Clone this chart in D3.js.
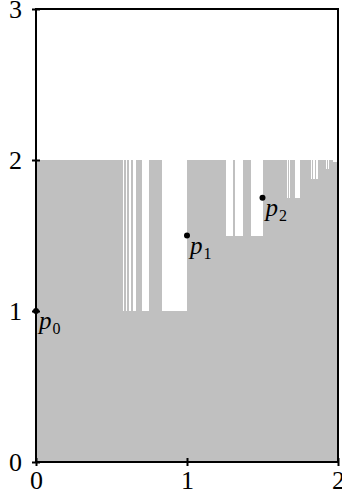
<!DOCTYPE html>
<html>
<head>
<meta charset="utf-8">
<script src="https://cdn.jsdelivr.net/npm/d3@7"></script>
<style>
  html, body { margin: 0; padding: 0; background: #fff; }
  svg { display: block; }
  text { font-family: "Liberation Serif", "DejaVu Serif", serif; }
</style>
</head>
<body>
<div id="chart"></div>
<script>
// white notches cut into the gray region: [start, end] on x, and the level they drop to
const gapStart = [0.574, 0.596, 0.618, 0.640, 0.702, 0.834,
                  1.258, 1.320, 1.424,
                  1.660, 1.673, 1.715,
                  1.821, 1.836, 1.854,
                  1.918, 1.936,
                  1.969];
const gapEnd   = [0.583, 0.605, 0.627, 0.662, 0.746, 1.000,
                  1.305, 1.370, 1.500,
                  1.667, 1.682, 1.748,
                  1.828, 1.846, 1.869,
                  1.925, 1.943,
                  1.991];
const gapLevel = [1, 1, 1, 1, 1, 1,
                  1.5, 1.5, 1.5,
                  1.75, 1.75, 1.75,
                  1.875, 1.875, 1.875,
                  1.9375, 1.9375,
                  1.985];
const topLevel = 2;

const pointNames = ["p", "p", "p"];
const pointSubs  = ["0", "1", "2"];
const pointX     = [0, 1, 1.5];
const pointY     = [1, 1.5, 1.75];

const xTicks = [0, 1, 2];
const yTicks = [0, 1, 2, 3];

const width = 342, height = 501;

const x = d3.scaleLinear().domain([0, 2]).range([36, 338]);
const y = d3.scaleLinear().domain([0, 3]).range([462, 9]);

const svg = d3.select('#chart').append('svg')
  .attr('width', width)
  .attr('height', height);

// step profile of the gray region
let steps = [{ x: 0, v: topLevel }];
gapStart.forEach((s, i) => {
  steps.push({ x: s, v: gapLevel[i] });
  steps.push({ x: gapEnd[i], v: topLevel });
});
steps.push({ x: 2, v: topLevel });

const area = d3.area()
  .curve(d3.curveStepAfter)
  .x(d => x(d.x))
  .y0(y(0))
  .y1(d => y(d.v));

svg.append('path')
  .datum(steps)
  .attr('d', area)
  .attr('fill', '#c0c0c0')
  .attr('shape-rendering', 'crispEdges');

// frame
svg.append('rect')
  .attr('x', x(0))
  .attr('y', y(3))
  .attr('width', x(2) - x(0))
  .attr('height', y(0) - y(3))
  .attr('fill', 'none')
  .attr('stroke', '#000')
  .attr('stroke-width', 2);

// ticks
const xAxis = svg.append('g').attr('transform', `translate(0,${y(0)})`)
  .call(d3.axisBottom(x).tickValues(xTicks).tickSize(4).tickPadding(5).tickFormat(d3.format('d')));
xAxis.select('.domain').remove();
xAxis.selectAll('.tick line').attr('y1', -4).attr('stroke-width', 2);
xAxis.selectAll('.tick text').attr('font-size', 26).attr('fill', '#000')
  .attr('font-family', '"Liberation Serif", serif');

const yAxis = svg.append('g').attr('transform', `translate(${x(0)},0)`)
  .call(d3.axisLeft(y).tickValues(yTicks).tickSize(4).tickPadding(10).tickFormat(d3.format('d')));
yAxis.select('.domain').remove();
yAxis.selectAll('.tick line').attr('x1', 4).attr('x2', -4).attr('stroke-width', 2);
yAxis.selectAll('.tick text').attr('font-size', 26).attr('fill', '#000')
  .attr('font-family', '"Liberation Serif", serif');

// points
const pts = pointX.map((px, i) => ({ x: px, y: pointY[i], name: pointNames[i], sub: pointSubs[i] }));

svg.selectAll('.pt')
  .data(pts)
  .enter().append('circle')
  .attr('class', 'pt')
  .attr('cx', d => x(d.x))
  .attr('cy', d => y(d.y))
  .attr('r', 3)
  .attr('fill', '#000');

const lbl = svg.selectAll('.lbl')
  .data(pts)
  .enter().append('text')
  .attr('class', 'lbl')
  .attr('x', d => x(d.x) + 3)
  .attr('y', d => y(d.y) + 18)
  .attr('font-size', 25)
  .attr('fill', '#000');

lbl.append('tspan')
  .attr('font-style', 'italic')
  .text(d => d.name);
lbl.append('tspan')
  .attr('font-size', 16)
  .attr('dx', 1)
  .attr('dy', 5)
  .text(d => d.sub);
</script>
</body>
</html>
